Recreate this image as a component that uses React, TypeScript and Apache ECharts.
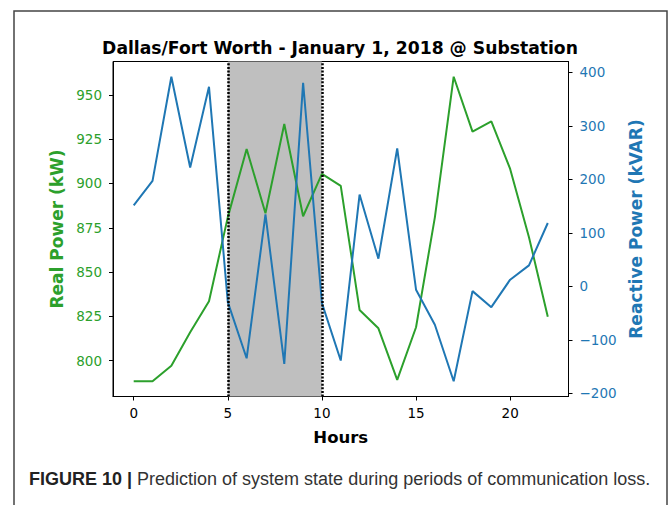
import React, { useEffect, useRef } from "react";
import * as echarts from "echarts";

const hours = [0, 1, 2, 3, 4, 5, 6, 7, 8, 9, 10, 11, 12, 13, 14, 15, 16, 17, 18, 19, 20, 21, 22];
const realPower = [788.3, 788.3, 797.1, 816, 833.5, 881, 919.5, 883.2, 933.6, 881.5, 905.4, 898.7, 828.6, 818.2, 789.1, 818.8, 880.9, 960.3, 929.3, 935.1, 908.2, 869.6, 824.8];
const reactivePower = [151.5, 197, 391.8, 222.1, 373, -29.6, -134.5, 134.6, -145, 380.5, -31.5, -138.8, 171.5, 51.7, 257.7, -6.4, -71.9, -177.5, -9, -39, 12.4, 39.1, 118.4];
const xTicks = [0, 5, 10, 15, 20];
const leftTicks = [800, 825, 850, 875, 900, 925, 950];
const rightTicks = [-200, -100, 0, 100, 200, 300, 400];
const lossStart = 5;
const lossEnd = 10;

const GREEN = "#2ca02c";
const BLUE = "#1f77b4";
const FONT = "DejaVu Sans";

export default function App() {
  const ref = useRef<HTMLDivElement>(null);
  useEffect(() => {
    if (!ref.current) return;
    const chart = echarts.init(ref.current, null, { renderer: "svg" });
    const green = hours.map((h, i) => [h, realPower[i]]);
    const blue = hours.map((h, i) => [h, reactivePower[i]]);
    const minus = (v: number) => String(v).replace("-", "\u2212");
    chart.setOption({
      animation: false,
      backgroundColor: "#fff",
      grid: {
        left: 113,
        right: 100.5,
        top: 61.5,
        bottom: 108.5,
        show: true,
        borderColor: "#000",
        borderWidth: 1,
        backgroundColor: "transparent",
      },
      xAxis: {
        type: "value",
        min: -1.1,
        max: 23.1,
        axisLine: { show: true, onZero: false, lineStyle: { color: "#000", width: 1 } },
        axisTick: { show: true, customValues: xTicks, length: 4, lineStyle: { color: "#000" } },
        axisLabel: { customValues: xTicks, color: "#000", fontSize: 13.5, fontFamily: FONT, margin: 9 },
        splitLine: { show: false },
        name: "Hours",
        nameLocation: "middle",
        nameGap: 32,
        nameTextStyle: { color: "#000", fontSize: 16.5, fontWeight: "bold", fontFamily: FONT },
      },
      yAxis: [
        {
          type: "value",
          position: "left",
          min: 779.7,
          max: 968.9,
          axisLine: { show: true, onZero: false, lineStyle: { color: "#000", width: 1 } },
          axisTick: { show: true, customValues: leftTicks, length: 4, lineStyle: { color: "#000" } },
          axisLabel: { customValues: leftTicks, color: GREEN, fontSize: 13.5, fontFamily: FONT, margin: 11 },
          splitLine: { show: false },
          name: "Real Power (kW)",
          nameLocation: "middle",
          nameGap: 48,
          nameTextStyle: { color: GREEN, fontSize: 17, fontWeight: "bold", fontFamily: FONT },
        },
        {
          type: "value",
          position: "right",
          min: -206,
          max: 420.3,
          axisLine: { show: true, onZero: false, lineStyle: { color: "#000", width: 1 } },
          axisTick: { show: true, customValues: rightTicks, length: 4, lineStyle: { color: "#000" } },
          axisLabel: { customValues: rightTicks, color: BLUE, fontSize: 13.5, fontFamily: FONT, margin: 11, formatter: minus },
          splitLine: { show: false },
          name: "Reactive Power (kVAR)",
          nameLocation: "middle",
          nameGap: 58,
          nameTextStyle: { color: BLUE, fontSize: 17, fontWeight: "bold", fontFamily: FONT },
        },
      ],
      series: [
        {
          type: "line",
          data: [],
          yAxisIndex: 0,
          z: 1,
          silent: true,
          markArea: {
            silent: true,
            itemStyle: { color: "#bfbfbf" },
            data: [[{ xAxis: lossStart }, { xAxis: lossEnd }]],
          },
        },
        {
          type: "line",
          data: green,
          yAxisIndex: 0,
          z: 2,
          symbol: "none",
          lineStyle: { color: GREEN, width: 2 },
        },
        {
          type: "line",
          data: blue,
          yAxisIndex: 1,
          z: 3,
          symbol: "none",
          lineStyle: { color: BLUE, width: 2 },
        },
        {
          type: "line",
          data: [],
          yAxisIndex: 0,
          z: 4,
          silent: true,
          markLine: {
            silent: true,
            symbol: ["none", "none"],
            label: { show: false },
            lineStyle: { color: "#000", width: 2.5, type: [2, 1.6], cap: "butt" },
            data: [{ xAxis: lossStart }, { xAxis: lossEnd }],
          },
        },
      ],
      graphic: [
        {
          type: "rect",
          shape: { x: 14, y: 11, width: 653, height: 520 },
          style: { fill: "none", stroke: "#444", lineWidth: 1.5 },
          silent: true,
        },
        {
          type: "text",
          x: 340,
          y: 48,
          style: {
            text: "Dallas/Fort Worth - January 1, 2018 @ Substation",
            fontFamily: FONT,
            fontSize: 17.2,
            fontWeight: "bold",
            fill: "#000",
            textAlign: "center",
            textVerticalAlign: "middle",
          },
        },
        {
          type: "text",
          x: 29,
          y: 479,
          style: {
            text: "{b|FIGURE 10 |} Prediction of system state during periods of communication loss.",
            rich: {
              b: { fontWeight: "bold", fontFamily: "Liberation Sans", fontSize: 18, fill: "#222" },
            },
            fontFamily: "Liberation Sans",
            fontSize: 18,
            fill: "#333",
            textVerticalAlign: "middle",
          },
        },
      ],
    });
    return () => chart.dispose();
  }, []);
  return <div ref={ref} style={{ position: "absolute", left: 0, top: 0, width: 669, height: 505 }} />;
}
